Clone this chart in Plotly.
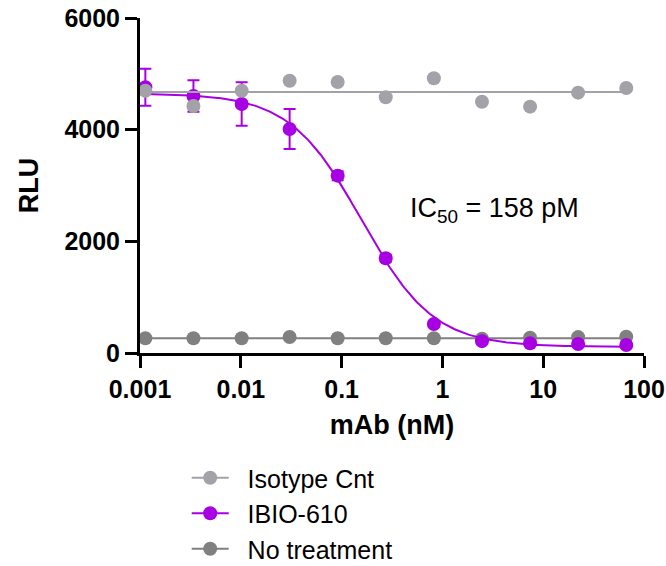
import numpy as np
import plotly.graph_objects as go

# ---- data ----
dose_nM = [0.00113, 0.00339, 0.0102, 0.0305, 0.0914, 0.274, 0.823, 2.47, 7.41, 22.2, 66.7]
isotype_rlu = [4698, 4424, 4698, 4877, 4854, 4580, 4920, 4501, 4412, 4663, 4747]
ibio_rlu = [4759, 4603, 4460, 4012, 3176, 1696, 519, 212, 173, 161, 143]
ibio_sd = [330, 280, 390, 360, 80, 60, 40, 30, 20, 20, 20]
untreated_rlu = [263, 263, 263, 287, 263, 263, 263, 255, 275, 285, 290]

isotype_fit_level = 4675
untreated_fit_level = 262
fit_top, fit_bottom, fit_ic50_nM, fit_hill = 4650, 110, 0.158, 1.22

x_tick_vals = [0.001, 0.01, 0.1, 1, 10, 100]
x_tick_text = ["0.001", "0.01", "0.1", "1", "10", "100"]
y_tick_vals = [0, 2000, 4000, 6000]
y_tick_text = ["0", "2000", "4000", "6000"]

series_names = ["Isotype Cnt", "IBIO-610", "No treatment"]
c_iso, c_ibio, c_none = "#a2a2a8", "#a600e3", "#808080"

FONT = "Arial, 'Liberation Sans', sans-serif"

# 4PL fitted curve (IC50 = 158 pM)
curve_x = np.logspace(np.log10(dose_nM[0]), np.log10(dose_nM[-1]), 300)
curve_y = fit_bottom + (fit_top - fit_bottom) / (1 + (curve_x / fit_ic50_nM) ** fit_hill)

fig = go.Figure()
mk = 14
# bottom layer: no treatment
fig.add_trace(go.Scatter(x=[dose_nM[0], dose_nM[-1]], y=[untreated_fit_level] * 2, mode="lines",
                         line=dict(color=c_none, width=2), showlegend=False, hoverinfo="skip"))
fig.add_trace(go.Scatter(x=dose_nM, y=untreated_rlu, mode="markers",
                         marker=dict(color=c_none, size=mk), showlegend=False))
# IBIO-610
fig.add_trace(go.Scatter(x=curve_x, y=curve_y, mode="lines",
                         line=dict(color=c_ibio, width=2), showlegend=False, hoverinfo="skip"))
fig.add_trace(go.Scatter(x=dose_nM, y=ibio_rlu, mode="markers",
                         marker=dict(color=c_ibio, size=mk),
                         error_y=dict(type="data", array=ibio_sd, color=c_ibio, thickness=2, width=6),
                         showlegend=False))
# Isotype (top)
fig.add_trace(go.Scatter(x=[dose_nM[0], dose_nM[-1]], y=[isotype_fit_level] * 2, mode="lines",
                         line=dict(color=c_iso, width=2), showlegend=False, hoverinfo="skip"))
fig.add_trace(go.Scatter(x=dose_nM, y=isotype_rlu, mode="markers",
                         marker=dict(color=c_iso, size=mk), showlegend=False))

# legend entries
NBSP = "\u00a0"
for name, col in zip(series_names, [c_iso, c_ibio, c_none]):
    fig.add_trace(go.Scatter(x=[None], y=[None], mode="lines+markers", name=NBSP * 2 + name,
                             line=dict(color=col, width=2), marker=dict(color=col, size=mk)))

axis_common = dict(showline=True, linewidth=3, linecolor="black", ticks="outside",
                   ticklen=12, tickwidth=3, tickcolor="black", showgrid=False, zeroline=False,
                   automargin=False, ticklabeloverflow="allow",
                   tickfont=dict(family=FONT, size=25, color="black", weight="bold"))

W, H = 666, 566
L, T = 140, 18
PW, PH = 504, 335

fig.update_layout(
    width=W, height=H,
    margin=dict(l=L, r=W - L - PW, t=T, b=H - T - PH, pad=0, autoexpand=False),
    plot_bgcolor="white", paper_bgcolor="white",
    font=dict(family=FONT, color="black"),
    xaxis=dict(type="log", range=[-3, 2], tickvals=x_tick_vals, ticktext=x_tick_text,
               title=dict(text="<b>mAb (nM)</b>", font=dict(family=FONT, size=27), standoff=14),
               **axis_common),
    yaxis=dict(range=[0, 6000], tickvals=y_tick_vals, ticktext=y_tick_text,
               title=dict(text="<b>RLU</b>", font=dict(family=FONT, size=27), standoff=18),
               **axis_common),
    legend=dict(x=(186.7 - L) / PW, y=(T + PH - 455) / PH, xanchor="left", yanchor="top",
                itemwidth=37,
                font=dict(family=FONT, size=25, color="black"), bgcolor="rgba(0,0,0,0)"),
    annotations=[dict(text="IC<sub>50</sub> = 158 pM", xref="paper", yref="paper",
                      x=(408 - L) / PW, y=(T + PH - 210) / PH, xanchor="left", yanchor="middle",
                      showarrow=False, font=dict(family=FONT, size=27, color="black"))],
)

# remove the default page margin so the figure fills the 666x566 window exactly
fig.write_html("out.html", config={"displayModeBar": False},
               post_script="document.body.style.margin='0';document.body.style.overflow='hidden';")
